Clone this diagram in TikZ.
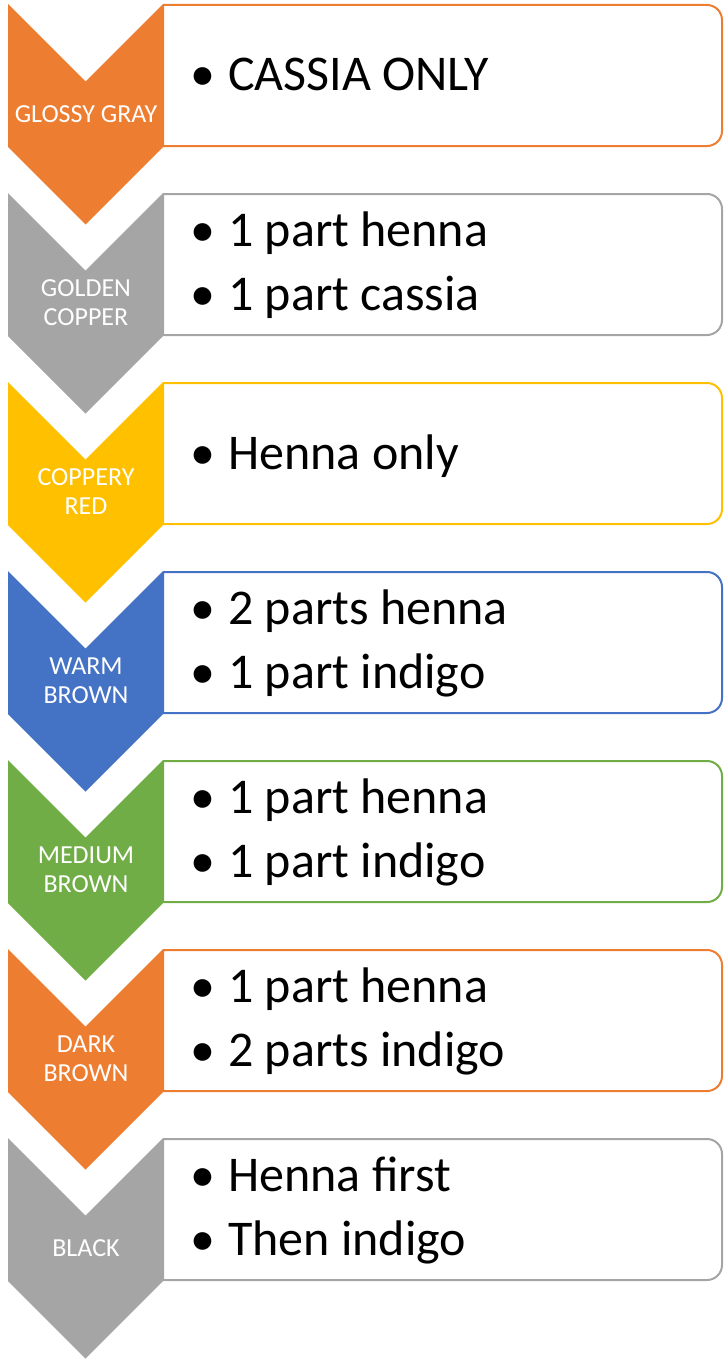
\documentclass[tikz,border=0pt]{standalone}
\usepackage{fontspec}
\setmainfont{Carlito}
\definecolor{corange}{HTML}{ED7D31}
\definecolor{cgray}{HTML}{A5A5A5}
\definecolor{cgold}{HTML}{FFC000}
\definecolor{cblue}{HTML}{4472C4}
\definecolor{cgreen}{HTML}{70AD47}
\newcommand{\bulmark}{\makebox[38pt][l]{•}}
\begin{document}
\begin{tikzpicture}[x=1pt,y=-1pt,
  chev/.style={fill=#1},
  listbox/.style={draw=#1, line width=2pt},
  lab/.style={text=white, font=\fontsize{26}{29}\selectfont, align=center, inner sep=0pt},
  item/.style={font=\fontsize{50}{64}\selectfont, inner sep=0pt, anchor=base west}]
\useasboundingbox (0,0) rectangle (723,1362);
\foreach \i/\col/\lbl in {
  0/corange/{GLOSSY GRAY},
  1/cgray/{GOLDEN\\COPPER},
  2/cgold/{COPPERY\\RED},
  3/cblue/{WARM\\BROWN},
  4/cgreen/{MEDIUM\\BROWN},
  5/corange/{DARK\\BROWN},
  6/cgray/{BLACK}}{
  \pgfmathsetmacro\T{4+189*\i}
  \draw[listbox=\col] (163,\T+1) -- (700,\T+1)
     [rounded corners=15pt] (690,\T+1) -- (722,\T+1) -- (722,\T+142) -- (690,\T+142)
     [sharp corners] (700,\T+142) -- (163,\T+142) -- (163,\T+1);
  \fill[chev=\col] (8,\T) -- (85.5,\T+77.5) -- (163,\T) -- (163,\T+143)
     -- (85.5,\T+220.5) -- (8,\T+143) -- cycle;
  \node[lab] (lab\i) at (86,\T+110) {\lbl};
}
\foreach \y/\s [count=\k] in {
  91/CASSIA ONLY,
  246/1 part henna, 310/1 part cassia,
  469/Henna only,
  624/2 parts henna, 688/1 part indigo,
  813/1 part henna, 877/1 part indigo,
  1002/1 part henna, 1066/2 parts indigo,
  1191/Henna first, 1255/Then indigo}{
  \node[item] (item\k) at (190,\y) {\bulmark\s};
}
\end{tikzpicture}
\end{document}
